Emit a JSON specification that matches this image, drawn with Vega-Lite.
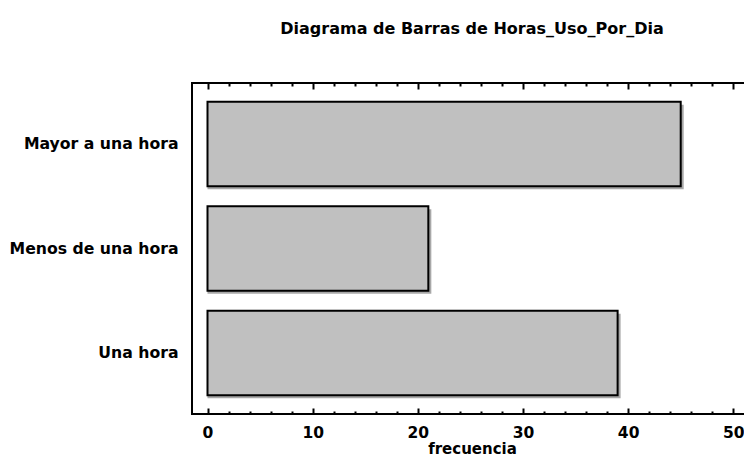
{
  "$schema": "https://vega.github.io/schema/vega-lite/v6.json",
  "width": 560,
  "height": 331,
  "autosize": {"type": "none"},
  "padding": {"left": 192, "top": 83, "right": 0, "bottom": 49},
  "background": "white",
  "title": {
    "text": "Diagrama de Barras de Horas_Uso_Por_Dia",
    "anchor": "middle",
    "font": "DejaVu Sans",
    "fontSize": 16,
    "fontWeight": "bold",
    "color": "black",
    "baseline": "alphabetic",
    "offset": 32
  },
  "config": {
    "view": {"stroke": "black", "strokeWidth": 2},
    "axis": {
      "domain": false,
      "grid": false,
      "tickColor": "black",
      "tickWidth": 2,
      "labelFont": "DejaVu Sans",
      "labelFontWeight": "bold",
      "labelFontSize": 15.5,
      "labelColor": "black",
      "titleFont": "DejaVu Sans",
      "titleFontWeight": "bold",
      "titleFontSize": 15,
      "titleColor": "black"
    }
  },
  "data": {
    "values": [
      {"categoria": "Mayor a una hora", "frecuencia": 45},
      {"categoria": "Menos de una hora", "frecuencia": 21},
      {"categoria": "Una hora", "frecuencia": 39}
    ]
  },
  "encoding": {
    "y": {
      "field": "categoria",
      "type": "nominal",
      "sort": null,
      "scale": {"paddingInner": 0.19, "paddingOuter": 0.18},
      "axis": {"ticks": false, "domain": false, "labelPadding": 14, "title": null, "labelLimit": 300, "labelFontSize": 15.7}
    },
    "x2": {"datum": 0}
  },
  "layer": [
    {
      "mark": {"type": "bar", "fill": "#a8a8a8", "xOffset": 3, "yOffset": 3, "strokeWidth": 0},
      "encoding": {
        "x": {
          "field": "frecuencia",
          "type": "quantitative",
          "scale": {"domain": [-1.474, 51.78], "nice": false, "zero": false},
          "axis": {"orient": "bottom", "values": [0, 10, 20, 30, 40, 50], "tickSize": -6, "labelPadding": 17, "title": "frecuencia", "titlePadding": 1}
        }
      }
    },
    {
      "mark": {"type": "bar", "fill": "#c0c0c0", "stroke": "black", "strokeWidth": 2},
      "encoding": {
        "x": {
          "field": "frecuencia",
          "type": "quantitative",
          "axis": {"orient": "top", "values": [0, 10, 20, 30, 40, 50], "tickSize": -6, "labels": false, "title": null}
        }
      }
    },
    {
      "mark": {"type": "bar", "opacity": 0},
      "encoding": {
        "x": {
          "field": "frecuencia",
          "type": "quantitative",
          "axis": {"orient": "bottom", "values": [2, 4, 6, 8, 12, 14, 16, 18, 22, 24, 26, 28, 32, 34, 36, 38, 42, 44, 46, 48], "tickSize": -3, "labels": false, "title": null}
        }
      }
    },
    {
      "mark": {"type": "bar", "opacity": 0},
      "encoding": {
        "x": {
          "field": "frecuencia",
          "type": "quantitative",
          "axis": {"orient": "top", "values": [2, 4, 6, 8, 12, 14, 16, 18, 22, 24, 26, 28, 32, 34, 36, 38, 42, 44, 46, 48], "tickSize": -3, "labels": false, "title": null}
        }
      }
    }
  ],
  "resolve": {"axis": {"x": "independent"}}
}
